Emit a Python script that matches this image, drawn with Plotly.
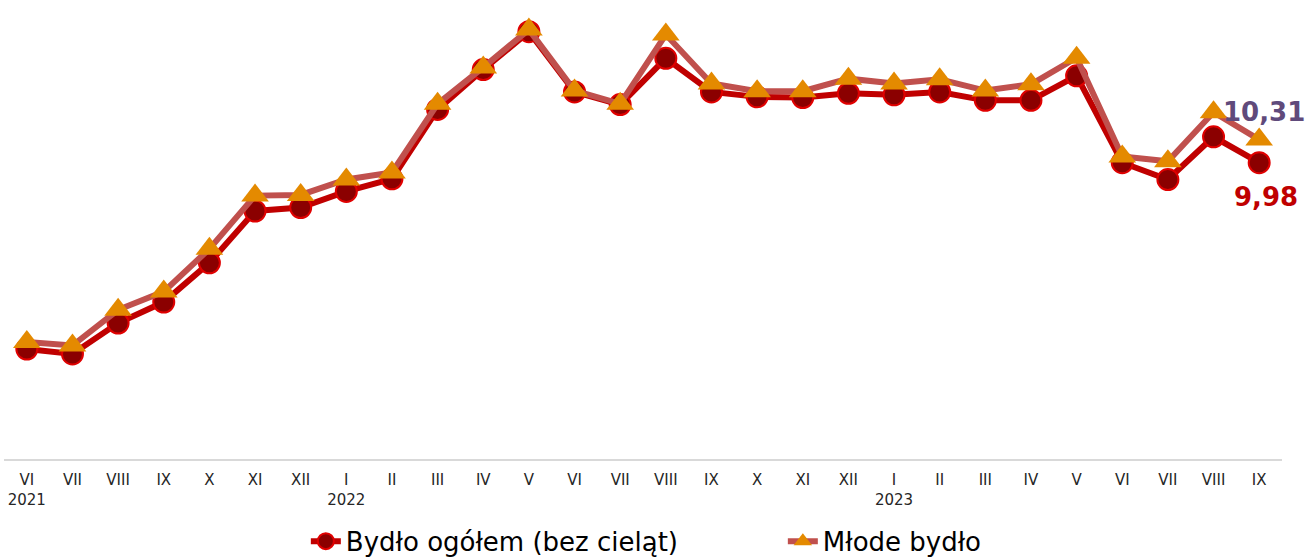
import plotly.graph_objects as go

months = ["VI<br>2021", "VII", "VIII", "IX", "X", "XI", "XII", "I<br>2022", "II", "III", "IV", "V",
          "VI", "VII", "VIII", "IX", "X", "XI", "XII", "I<br>2023", "II", "III", "IV", "V",
          "VI", "VII", "VIII", "IX"]
cat_ids = list(range(len(months)))

bydlo_ogolem = [7.32, 7.25, 7.69, 7.99, 8.55, 9.29, 9.34, 9.57, 9.75, 10.74, 11.31, 11.85,
                10.99, 10.81, 11.47, 10.99, 10.92, 10.91, 10.97, 10.95, 10.99, 10.87, 10.87, 11.22,
                9.98, 9.74, 10.35, 9.98]
mlode_bydlo = [7.42, 7.37, 7.88, 8.14, 8.75, 9.51, 9.52, 9.74, 9.84, 10.82, 11.34, 11.88,
               11.01, 10.82, 11.81, 11.11, 11.00, 11.00, 11.18, 11.11, 11.17, 11.01, 11.10, 11.48,
               10.07, 10.00, 10.70, 10.31]

name1 = "Bydło ogółem (bez cieląt)"
name2 = "Młode bydło"

fig = go.Figure()
fig.add_trace(go.Scatter(
    x=cat_ids, y=bydlo_ogolem, name=name1, mode="lines+markers",
    line=dict(color="#c00000", width=6),
    marker=dict(symbol="circle", size=21, color="#8b0000", line=dict(color="#e00000", width=2)),
))
fig.add_trace(go.Scatter(
    x=cat_ids, y=mlode_bydlo, name=name2, mode="lines+markers",
    line=dict(color="#c0504d", width=6),
    marker=dict(symbol="triangle-up", size=24, color="#e48a00", line=dict(width=0)),
))

fig.add_annotation(x=cat_ids[-1], y=mlode_bydlo[-1], text="<b>10,31</b>", showarrow=False,
                   xref="x", yref="y", xshift=5, yshift=28,
                   font=dict(family="DejaVu Sans", size=26, color="#604a7b"))
fig.add_annotation(x=cat_ids[-1], y=bydlo_ogolem[-1], text="<b>9,98</b>", showarrow=False,
                   xref="x", yref="y", xshift=7, yshift=-34,
                   font=dict(family="DejaVu Sans", size=26, color="#c00000"))

fig.update_layout(
    width=1307, height=558,
    margin=dict(l=4, r=25, t=10, b=99, autoexpand=False),
    paper_bgcolor="white", plot_bgcolor="white",
    font=dict(family="DejaVu Sans", color="#262626"),
    showlegend=True,
    legend=dict(orientation="h", xref="container", yref="container",
                x=0.234, xanchor="left", y=0.03, yanchor="middle",
                font=dict(size=26, color="#000000"), itemwidth=30,
                entrywidth=432, entrywidthmode="pixels",
                bgcolor="rgba(0,0,0,0)"),
    xaxis=dict(tickmode="array", tickvals=cat_ids, ticktext=months, range=[-0.5, len(months) - 0.5],
               showline=True, linecolor="#d9d9d9", linewidth=2, showgrid=False, zeroline=False,
               automargin=False, ticklabelstandoff=6,
               ticks="", tickfont=dict(size=15, color="#262626")),
    yaxis=dict(visible=False, range=[5.75, 12.16], showgrid=False, zeroline=False, automargin=False),
)

fig.write_html("out.html", config={"displayModeBar": False},
               post_script="document.body.style.margin='0';document.body.style.overflow='hidden';")
